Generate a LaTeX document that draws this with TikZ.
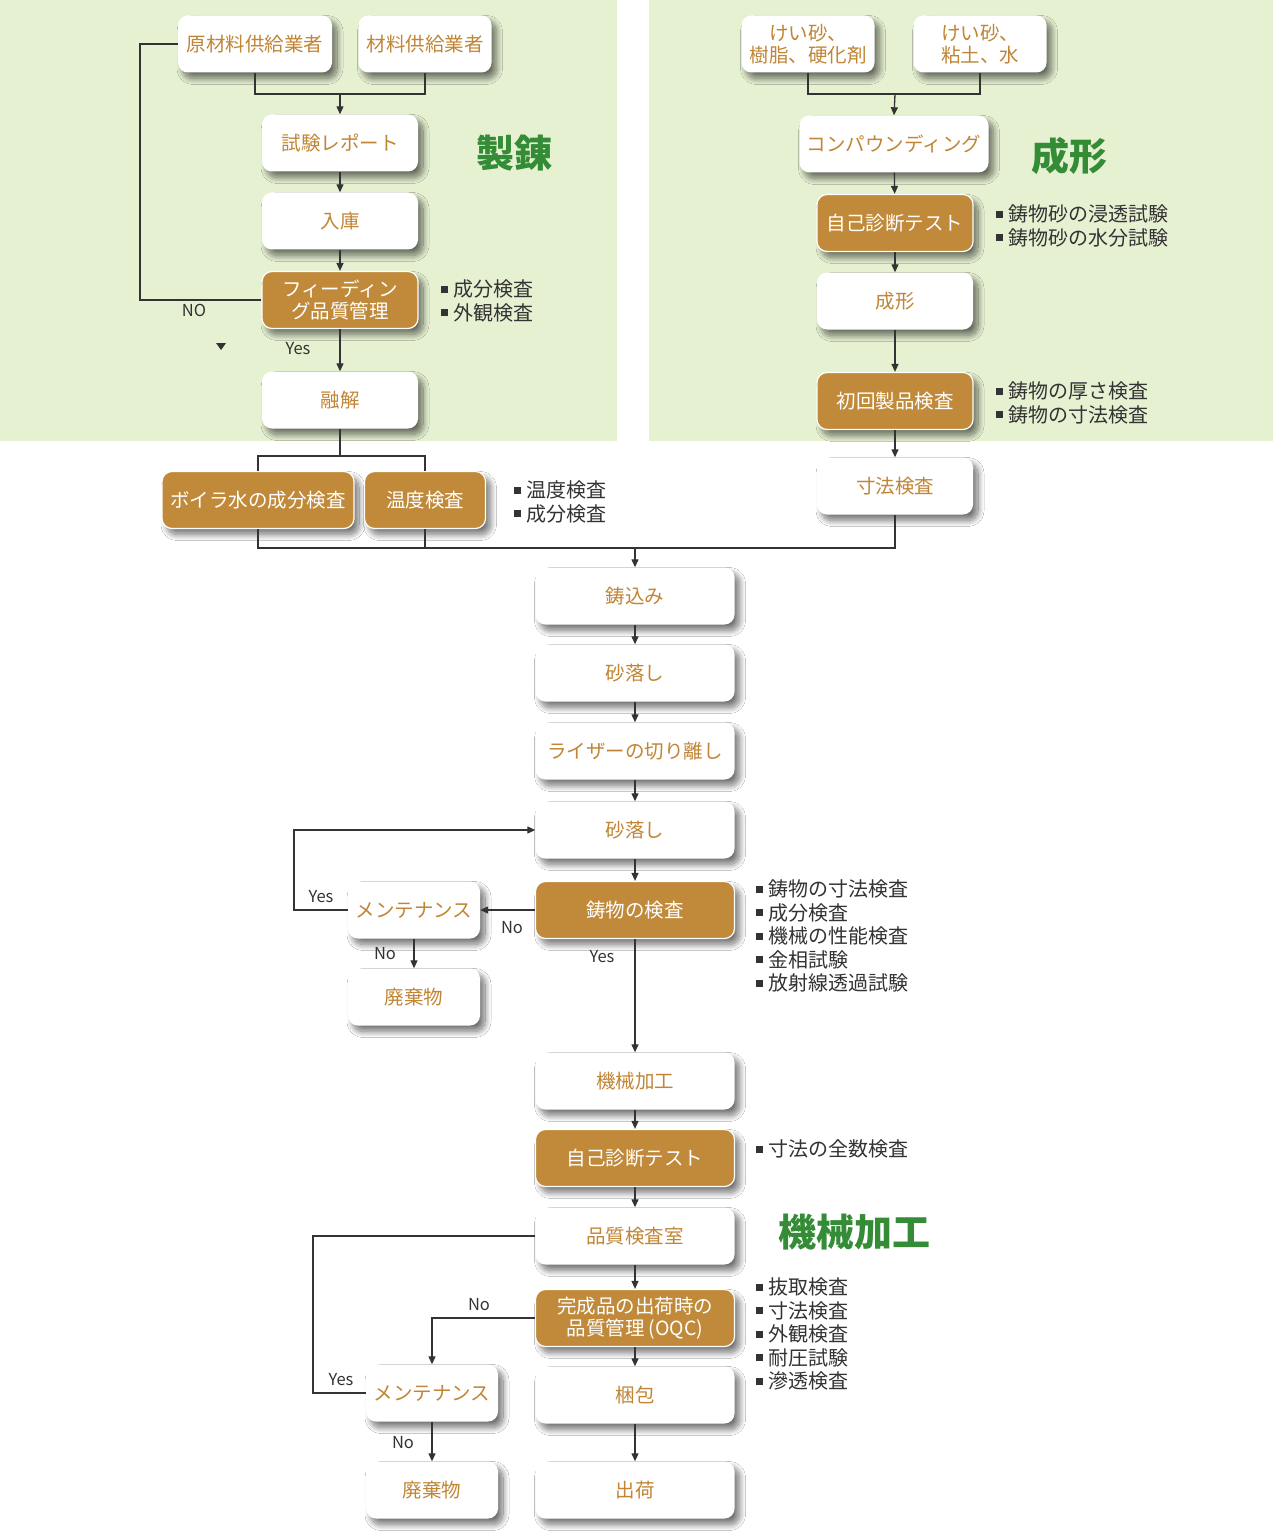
\documentclass[tikz,border=0pt]{standalone}
\usepackage{fontspec}
\setmainfont{Noto Sans CJK JP}
\usetikzlibrary{arrows.meta,shadows.blur}
\definecolor{panelG}{HTML}{E6F1D2}
\definecolor{brownF}{HTML}{C08A3A}
\definecolor{orangeT}{HTML}{C08535}
\definecolor{titleG}{HTML}{358C36}
\definecolor{lineC}{HTML}{333333}
\newcommand{\bu}{\raisebox{4pt}{\rule{7pt}{7pt}}\hspace{5pt}}
\tikzset{
  boxbase/.style={rounded corners=10pt, align=center, inner sep=2pt,
    minimum width=156pt, minimum height=57pt,
    font=\fontsize{19.5}{22}\selectfont,
    blur shadow={shadow xshift=5pt, shadow yshift=-6pt, shadow blur radius=6pt, shadow blur steps=14, shadow opacity=55}},
  wbox/.style={boxbase, fill=white, text=orangeT},
  bbox/.style={boxbase, fill=brownF, draw=white, line width=1.2pt, text=white},
  mbox/.style={minimum width=199pt},
  sbox/.style={minimum width=132pt},
  bul/.style={anchor=west, inner sep=0pt, align=left, text=lineC, font=\fontsize{20}{23.5}\selectfont},
  lab/.style={inner sep=0pt, text=lineC, font=\fontsize{16.5}{18}\selectfont},
  ttl/.style={inner sep=0pt, text=titleG, font=\fontsize{38}{40}\selectfont\bfseries},
  ln/.style={draw=lineC, line width=1.3pt},
  arr/.style={ln, -{Triangle[length=8pt,width=7pt]}},
}
\begin{document}
\begin{tikzpicture}[x=1pt,y=-1pt]
\useasboundingbox (0,0) rectangle (1273,1538);
\fill[white] (0,0) rectangle (1273,1538);
\fill[panelG] (0,0) rectangle (617,441);
\fill[panelG] (649,0) rectangle (1273,441);

% ---- left panel
\node[wbox, minimum width=154pt] (s1) at (255,44) {原材料供給業者};
\node[wbox, minimum width=133pt] (s2) at (425,44) {材料供給業者};
\node[wbox] (rep) at (340,143) {試験レポート};
\node[wbox] (stock) at (340,221) {入庫};
\node[bbox] (feed) at (340,300) {フィーディン\\グ品質管理};
\node[wbox] (melt) at (340,400) {融解};
\node[bbox, minimum width=192pt] (boil) at (258,500) {ボイラ水の成分検査};
\node[bbox, minimum width=121pt] (temp) at (425,500) {温度検査};
\node[ttl] (t1) at (514,153) {製錬};
\node[bul] (b1) at (441,301) {\bu 成分検査\\\bu 外観検査};
\node[bul] (b2) at (514,502) {\bu 温度検査\\\bu 成分検査};

% ---- right panel
\node[wbox, minimum width=133pt] (r1) at (808,44) {けい砂、\\樹脂、硬化剤};
\node[wbox, minimum width=133pt] (r2) at (980,44) {けい砂、\\粘土、水};
\node[wbox, minimum width=189pt] (comp) at (894,144) {コンパウンディング};
\node[bbox] (self1) at (895,223) {自己診断テスト};
\node[wbox] (mold) at (895,301) {成形};
\node[bbox] (first) at (895,401) {初回製品検査};
\node[wbox] (dim) at (895,486) {寸法検査};
\node[ttl] (t2) at (1069,156) {成形};
\node[bul] (b3) at (996,226) {\bu 鋳物砂の浸透試験\\\bu 鋳物砂の水分試験};
\node[bul] (b4) at (996,403) {\bu 鋳物の厚さ検査\\\bu 鋳物の寸法検査};

% ---- main column
\node[wbox, mbox] (cast) at (635,596) {鋳込み};
\node[wbox, mbox] (sand1) at (635,673) {砂落し};
\node[wbox, mbox] (riser) at (635,751) {ライザーの切り離し};
\node[wbox, mbox] (sand2) at (635,830) {砂落し};
\node[bbox, mbox] (insp) at (635,910) {鋳物の検査};
\node[wbox, sbox] (maint1) at (414,910) {メンテナンス};
\node[wbox, sbox] (waste1) at (414,997) {廃棄物};
\node[wbox, mbox] (mach) at (635,1081) {機械加工};
\node[bbox, mbox] (self2) at (635,1158) {自己診断テスト};
\node[wbox, mbox] (qc) at (635,1236) {品質検査室};
\node[bbox, mbox] (oqc) at (635,1318) {完成品の出荷時の\\品質管理 (OQC)};
\node[wbox, mbox] (pack) at (635,1395) {梱包};
\node[wbox, mbox] (ship) at (635,1490) {出荷};
\node[wbox, sbox] (maint2) at (432,1393) {メンテナンス};
\node[wbox, sbox] (waste2) at (432,1490) {廃棄物};
\node[ttl] (t3) at (854,1232) {機械加工};
\node[bul] (b5) at (756,936) {\bu 鋳物の寸法検査\\\bu 成分検査\\\bu 機械の性能検査\\\bu 金相試験\\\bu 放射線透過試験};
\node[bul] (b6) at (756,1149) {\bu 寸法の全数検査};
\node[bul] (b7) at (756,1334) {\bu 抜取検査\\\bu 寸法検査\\\bu 外観検査\\\bu 耐圧試験\\\bu 滲透検査};

% ---- coordinates
\coordinate (j1) at (340,94);
\coordinate (cno) at (140,300);
\coordinate (j2) at (340,456);
\coordinate (j3) at (635,548);
\coordinate (j4) at (895,94);
\coordinate (c1) at (294,910);
\coordinate (c2) at (313,1236);

% ---- connectors left
\draw[ln] (s1.south) |- (j1) -| (s2.south);
\draw[arr] (j1) -- (rep.north);
\draw[arr] (rep) -- (stock);
\draw[arr] (stock) -- (feed);
\draw[arr] (feed) -- (melt);
\draw[ln] (feed.west) -- (cno) |- (s1.west);
\draw[ln] (melt.south) -- (j2);
\draw[ln] (boil.north) |- (j2) -| (temp.north);
\draw[ln] (boil.south) |- (j3);
\draw[ln] (temp.south) -- (temp.south |- j3);
\draw[ln] (dim.south) |- (j3);
\draw[arr] (j3) -- (cast.north);
\fill[lineC] (216,343) -- (226,343) -- (221,350) -- cycle;
\node[lab] (lno) at (194,310) {NO};
\node[lab] (lyes) at (298,349) {Yes};

% ---- connectors right
\draw[ln] (r1.south) |- (j4) -| (r2.south);
\draw[arr] (j4) -- (comp.north);
\draw[arr] (comp) -- (self1);
\draw[arr] (self1) -- (mold);
\draw[arr] (mold) -- (first);
\draw[arr] (first) -- (dim);

% ---- main connectors
\draw[arr] (cast) -- (sand1);
\draw[arr] (sand1) -- (riser);
\draw[arr] (riser) -- (sand2);
\draw[arr] (sand2) -- (insp);
\draw[arr] (insp) -- (maint1);
\draw[arr] (maint1) -- (waste1);
\draw[arr] (maint1.west) -- (c1) |- (sand2.west);
\draw[arr] (insp) -- (mach);
\draw[arr] (mach) -- (self2);
\draw[arr] (self2) -- (qc);
\draw[arr] (qc) -- (oqc);
\draw[arr] (oqc) -- (pack);
\draw[arr] (pack) -- (ship);
\draw[ln] (qc.west) -- (c2) |- (maint2.west);
\draw[arr] (oqc.west) -| (maint2.north);
\draw[arr] (maint2) -- (waste2);
\node[lab] (l1) at (321,897) {Yes};
\node[lab] (l2) at (512,928) {No};
\node[lab] (l3) at (385,954) {No};
\node[lab] (l4) at (602,957) {Yes};
\node[lab] (l5) at (341,1380) {Yes};
\node[lab] (l6) at (479,1305) {No};
\node[lab] (l7) at (403,1443) {No};
\end{tikzpicture}
\end{document}
